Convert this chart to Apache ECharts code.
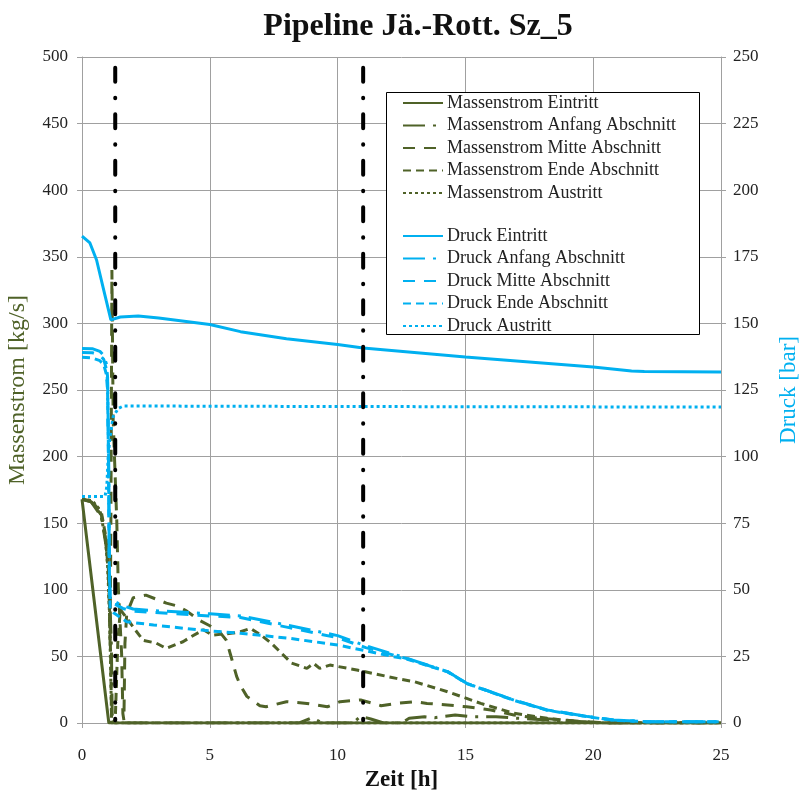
<!DOCTYPE html>
<html>
<head>
<meta charset="utf-8">
<script src="https://cdn.jsdelivr.net/npm/echarts@6/dist/echarts.min.js"></script>
<style>
html,body{margin:0;padding:0;background:#fff;}
#chart{width:800px;height:796px;}
</style>
</head>
<body>
<div id="chart"></div>
<script>
// ---- Data (time in h) ----
const xTicks = [0, 5, 10, 15, 20, 25];

const massEintrittT = [0, 1.05, 25];
const massEintrittV = [168, 0, 0];

const massAnfangT = [0, 0.36, 0.76, 0.95, 1.08, 1.15, 1.18, 1.22, 8.5, 9.0, 9.4, 10.6, 10.9, 11.3, 11.8, 12.5, 12.8, 13.4, 13.8, 14.6, 15.3, 16.2, 17.1, 18.2, 19.5, 20.5, 25];
const massAnfangV = [168, 166, 155, 132, 100, 57, 7, 0, 0, 4, 0, 0, 5, 3, 0, 0, 3.5, 4.7, 4, 6, 4.7, 4.7, 3.5, 2.3, 1, 0, 0];

const massMitteT = [0, 0.36, 0.76, 0.95, 1.05, 1.1, 1.13, 1.17, 1.22, 1.36, 1.42, 1.55, 1.6, 1.64, 1.68, 1.75, 2.0, 2.5, 3.3, 3.7, 4.1, 4.6, 5.0, 5.4, 5.65, 5.8, 6.05, 6.2, 6.45, 6.96, 7.2, 8.0, 8.8, 9.6, 10.1, 10.9, 11.7, 12.3, 13.0, 13.5, 14.3, 15.05, 16.0, 16.9, 17.8, 18.8, 19.7, 20.5, 25];
const massMitteV = [168, 166, 156, 135, 105, 60, 150, 340, 227, 152, 102, 52, 7, 2, 60, 82, 94, 96, 90, 88, 84, 77, 73, 68, 62, 52, 35, 28, 20, 13, 12.2, 16, 14.7, 12.2, 16, 17.3, 13, 14.7, 16, 14.7, 13.5, 12.2, 9.8, 6, 3.8, 2.3, 1, 0, 0];

const massEndeT = [0, 0.36, 0.76, 0.95, 1.05, 1.12, 1.16, 1.3, 1.4, 1.5, 1.7, 2.0, 2.4, 2.9, 3.3, 3.95, 4.2, 4.75, 5.1, 5.9, 6.2, 6.6, 7.0, 7.4, 8.2, 8.8, 9.06, 9.3, 9.7, 10.75, 12.3, 13.0, 14.3, 15.6, 16.9, 18.2, 19.5, 20.5, 25];
const massEndeV = [168, 167, 158, 138, 110, 50, 0, 2, 60, 85, 80, 72, 62, 60, 56, 61, 64, 70, 66, 67.5, 68.5, 71, 66, 60, 45, 41, 44.8, 41, 43.5, 39.8, 33.5, 31, 23.5, 14.7, 7.3, 3.5, 1, 0, 0];

const massAustrittT = [0, 0.4, 0.7, 0.9, 1.0, 1.08, 1.13, 1.16, 25];
const massAustrittV = [168, 167, 160, 140, 120, 80, 30, 0, 0];

const druckEintrittT = [0, 0.31, 0.57, 0.85, 1.13, 1.5, 2.2, 3.0, 5.0, 6.2, 8.0, 10.0, 11.0, 15.0, 20.0, 21.5, 22.0, 25];
const druckEintrittV = [182.8, 180.2, 173.8, 162.5, 151.3, 152.4, 152.8, 152, 149.6, 146.9, 144.2, 142.1, 140.8, 137.4, 133.6, 132.1, 131.9, 131.8];

const druckAnfangT = [0, 0.4, 0.7, 0.85, 0.95, 1.0, 1.04, 1.07, 1.1, 1.3, 1.6, 2.0, 2.8, 5.0, 6.2, 8.1, 10.0, 11.1, 12.3, 12.7, 14.3, 15.05, 16.9, 18.2, 19.8, 20.8, 22.1, 25];
const druckAnfangV = [140.6, 140.5, 139.5, 138, 135, 130, 100, 60, 46, 45.5, 44, 42.8, 42.2, 41, 40.2, 36.6, 32.8, 29, 25.5, 24.3, 19.3, 14.9, 8.6, 4.9, 2.4, 1.1, 0.5, 0.5];

const druckMitteT = [0, 0.4, 0.7, 0.85, 0.95, 1.0, 1.04, 1.07, 1.1, 1.3, 1.6, 2.0, 2.8, 5.0, 6.2, 8.1, 10.0, 11.1, 12.3, 12.7, 14.3, 15.05, 16.9, 18.2, 19.8, 20.8, 22.1, 25];
const druckMitteV = [139.1, 139, 138, 136.5, 133, 128, 98, 58, 45, 44.5, 43, 42, 41.5, 40.2, 39.6, 35.8, 32, 28.3, 25.2, 24.2, 19.3, 14.9, 8.6, 4.9, 2.4, 1.1, 0.5, 0.5];

const druckEndeT = [0, 0.4, 0.7, 0.85, 0.95, 1.0, 1.04, 1.07, 1.1, 1.25, 1.75, 2.8, 4.6, 6.2, 8.1, 10.0, 12.2, 12.7, 14.3, 15.05, 16.9, 18.2, 19.8, 20.8, 22.1, 25];
const druckEndeV = [137.3, 137, 136, 134.5, 131, 125, 95, 55, 43, 41.3, 38, 36.8, 34.9, 33.7, 31.8, 29.3, 24.9, 24, 19.2, 14.8, 8.5, 4.8, 2.3, 1.0, 0.5, 0.5];

const druckAustrittT = [0, 0.9, 0.97, 1.03, 1.1, 1.22, 1.42, 1.62, 10, 25];
const druckAustrittV = [85, 85, 88.7, 101, 107.5, 115, 118.1, 119, 118.8, 118.6];

const zeitmarken = [1.3, 11.0];
const zeitmarkeBereich = [492, 2];

// ---- Styling ----
const OLIVE = '#4F6228';
const BLUE = '#00B0F0';
const GRID = '#A0A0A0';
const FONT = 'Liberation Serif';
const dashes = {
  solid: null,
  anfang: [22, 8, 3, 8],
  mitte: [12, 9],
  ende: [8, 5],
  austritt: [3, 3]
};

function pairs(T, V) { return T.map((t, i) => [t, V[i]]); }

function lineSeries(name, T, V, color, dash, yAxisIndex) {
  return {
    name: name,
    type: 'line',
    yAxisIndex: yAxisIndex,
    data: pairs(T, V),
    symbol: 'none',
    showSymbol: false,
    smooth: false,
    animation: false,
    lineStyle: { color: color, width: 3, type: dash ? dash : 'solid' },
    itemStyle: { color: color }
  };
}

const series = [
  lineSeries('Massenstrom Eintritt', massEintrittT, massEintrittV, OLIVE, dashes.solid, 0),
  lineSeries('Massenstrom Anfang Abschnitt', massAnfangT, massAnfangV, OLIVE, dashes.anfang, 0),
  lineSeries('Massenstrom Mitte Abschnitt', massMitteT, massMitteV, OLIVE, dashes.mitte, 0),
  lineSeries('Massenstrom Ende Abschnitt', massEndeT, massEndeV, OLIVE, dashes.ende, 0),
  lineSeries('Massenstrom Austritt', massAustrittT, massAustrittV, OLIVE, dashes.austritt, 0),
  lineSeries('Druck Eintritt', druckEintrittT, druckEintrittV, BLUE, dashes.solid, 1),
  lineSeries('Druck Anfang Abschnitt', druckAnfangT, druckAnfangV, BLUE, dashes.anfang, 1),
  lineSeries('Druck Mitte Abschnitt', druckMitteT, druckMitteV, BLUE, dashes.mitte, 1),
  lineSeries('Druck Ende Abschnitt', druckEndeT, druckEndeV, BLUE, dashes.ende, 1),
  lineSeries('Druck Austritt', druckAustrittT, druckAustrittV, BLUE, dashes.austritt, 1)
];

zeitmarken.forEach((t, i) => {
  series.push({
    name: 'Zeitmarke ' + (i + 1),
    type: 'line',
    yAxisIndex: 0,
    data: zeitmarkeBereich.map(v => [t, v]),
    symbol: 'none',
    animation: false,
    z: 5,
    lineStyle: { color: '#000', width: 4, type: [14, 16, 0.5, 16], cap: 'round' }
  });
});

const massNames = series.slice(0, 5).map(s => s.name);
const druckNames = series.slice(5, 10).map(s => s.name);

const legendCommon = {
  orient: 'vertical',
  left: 402,
  itemWidth: 40,
  itemHeight: 14,
  itemGap: 4.5,
  padding: 0,
  z: 10,
  selectedMode: false,
  itemStyle: { opacity: 0 },
  textStyle: { fontFamily: FONT, fontSize: 18, color: '#222', lineHeight: 18, padding: [0, 0, 0, -1] }
};

const chart = echarts.init(document.getElementById('chart'), null, { renderer: 'canvas' });
chart.setOption({
  backgroundColor: '#fff',
  animation: false,
  title: {
    text: 'Pipeline Jä.-Rott. Sz_5',
    left: 413,
    textAlign: 'center',
    top: 6,
    textStyle: { fontFamily: FONT, fontSize: 32, fontWeight: 'bold', color: '#111' }
  },
  grid: { left: 82, right: 79, top: 57, bottom: 73, containLabel: false, outerBoundsMode: 'none' },
  legend: [
    Object.assign({}, legendCommon, { top: 94, data: massNames }),
    Object.assign({}, legendCommon, { top: 227, data: druckNames })
  ],
  graphic: [{
    type: 'rect',
    z: 8,
    shape: { x: 386.5, y: 92.5, width: 313, height: 242 },
    style: { fill: '#fff', stroke: '#000', lineWidth: 1 }
  }],
  xAxis: {
    type: 'value',
    min: 0, max: 25, interval: 5,
    name: 'Zeit [h]',
    nameLocation: 'middle',
    nameGap: 45,
    nameTextStyle: { fontFamily: FONT, fontSize: 23, fontWeight: 'bold', color: '#111' },
    axisLine: { show: true, lineStyle: { color: GRID, width: 1 } },
    axisTick: { show: true, length: 5, lineStyle: { color: GRID } },
    axisLabel: { margin: 24, fontFamily: FONT, fontSize: 17, color: '#222' },
    splitLine: { show: true, lineStyle: { color: GRID, width: 1 } }
  },
  yAxis: [{
    type: 'value',
    min: 0, max: 500, interval: 50,
    name: 'Massenstrom [kg/s]',
    nameLocation: 'middle',
    nameGap: 52,
    nameTextStyle: { fontFamily: FONT, fontSize: 24, color: OLIVE },
    axisLine: { show: true, lineStyle: { color: GRID, width: 1 } },
    axisTick: { show: true, length: 5, lineStyle: { color: GRID } },
    axisLabel: { margin: 14, fontFamily: FONT, fontSize: 17, color: '#222' },
    splitLine: { show: true, lineStyle: { color: GRID, width: 1 } }
  }, {
    type: 'value',
    min: 0, max: 250, interval: 25,
    position: 'right',
    name: 'Druck [bar]',
    nameLocation: 'middle',
    nameGap: 56,
    nameTextStyle: { fontFamily: FONT, fontSize: 23, color: BLUE },
    axisLine: { show: true, lineStyle: { color: GRID, width: 1 } },
    axisTick: { show: true, length: 5, lineStyle: { color: GRID } },
    axisLabel: { margin: 12, fontFamily: FONT, fontSize: 17, color: '#222' },
    splitLine: { show: false }
  }],
  series: series
});
</script>
</body>
</html>
